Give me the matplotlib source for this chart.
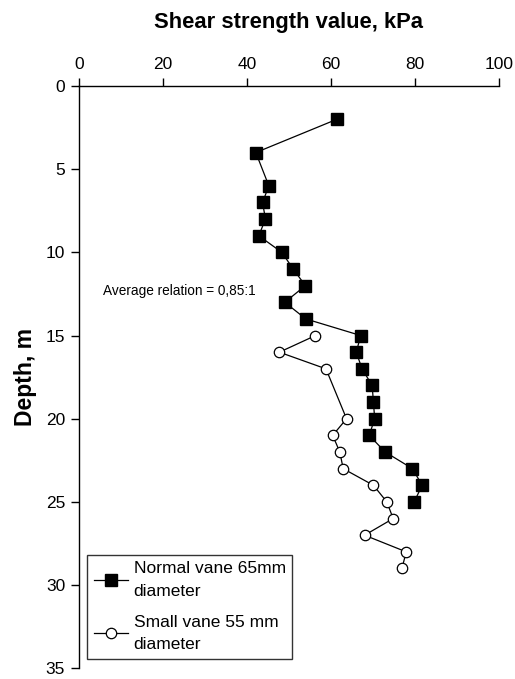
import matplotlib
matplotlib.use("Agg")
import matplotlib.pyplot as plt

# Data
normal_depth = [2, 4, 6, 7, 8, 9, 10, 11, 12, 13, 14, 15, 16, 17, 18, 19, 20, 21, 22, 23, 24, 25]
normal_strength = [61.4, 42.1, 45.2, 43.7, 44.4, 42.8, 48.3, 51.0, 53.9, 49.0, 54.0, 67.1,
                   66.0, 67.4, 69.8, 70.1, 70.4, 69.1, 72.9, 79.4, 81.7, 79.8]
small_depth = [15, 16, 17, 20, 21, 22, 23, 24, 25, 26, 27, 28, 29]
small_strength = [56.3, 47.7, 58.8, 63.7, 60.4, 62.1, 62.9, 70.1, 73.3, 74.8, 68.0, 77.9, 76.9]
x_ticks = [0, 20, 40, 60, 80, 100]
y_ticks = [0, 5, 10, 15, 20, 25, 30, 35]

plt.rcParams['font.family'] = ['Liberation Sans', 'DejaVu Sans']

fig = plt.figure(figsize=(5.15, 6.79), dpi=100)
ax = fig.add_axes([79/515, 1 - 668.3/679, 420/515, 582.3/679])

ax.plot(normal_strength, normal_depth, color='black', lw=0.9, marker='s', ms=8,
        mfc='black', mec='black', label='Normal vane 65mm\ndiameter', zorder=3)
ax.plot(small_strength, small_depth, color='black', lw=0.9, marker='o', ms=7.5,
        mfc='white', mec='black', mew=0.9, label='Small vane 55 mm\ndiameter', zorder=3)

ax.set_xlim(0, 100)
ax.set_ylim(35, 0)
ax.set_xticks(x_ticks)
ax.set_yticks(y_ticks)
ax.xaxis.tick_top()
ax.xaxis.set_label_position('top')
ax.tick_params(axis='both', direction='out', length=6, width=1, labelsize=12.5, colors='black')
ax.tick_params(axis='x', pad=4)
ax.tick_params(axis='y', pad=4)

for s in ['right', 'bottom']:
    ax.spines[s].set_visible(False)
for s in ['left', 'top']:
    ax.spines[s].set_linewidth(1.0)
    ax.spines[s].set_color('black')

ax.set_xlabel('Shear strength value, kPa', fontsize=15.8, fontweight='bold', labelpad=21)
ax.set_ylabel('Depth, m', fontsize=16.5, fontweight='bold', labelpad=6)

ax.text(5.7, 12.3, 'Average relation = 0,85:1', fontsize=9.8, ha='left', va='center')

leg = ax.legend(loc='lower left', bbox_to_anchor=(0.019, 0.016), borderaxespad=0,
                fontsize=12.5, frameon=True, fancybox=False, edgecolor='black',
                handlelength=2.0, handletextpad=0.3, borderpad=0.38, labelspacing=0.9,
                numpoints=1)
leg.get_frame().set_linewidth(1.0)
for t in leg.get_texts():
    t.set_linespacing(1.65)

fig.savefig('out.png', dpi=100)
